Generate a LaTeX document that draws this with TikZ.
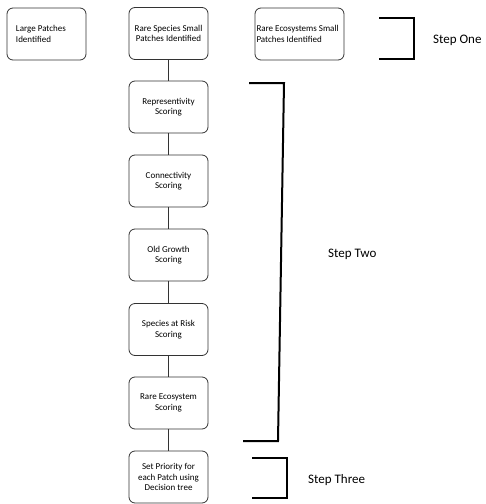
\documentclass[tikz,border=0pt]{standalone}
\usepackage{fontspec}
\setmainfont{Carlito}
\usepackage{tikz}

\tikzset{
  stepbox/.style={draw=black!80, line width=0.8pt, rounded corners=6pt,
    minimum width=79pt, minimum height=52pt, inner sep=2pt,
    align=center, font=\fontsize{9}{10.5}\selectfont},
  leftbox/.style={stepbox, align=flush left, text width=61pt, inner xsep=9pt},
  link/.style={draw=black!80, line width=0.8pt},
  bracket/.style={line width=2pt},
  steplabel/.style={font=\fontsize{13}{15}\selectfont}
}

\begin{document}
\begin{tikzpicture}[x=1pt, y=-1pt]
        \useasboundingbox (0,0) rectangle (486,504);
        % first row
        \node[leftbox] (large) at (46.5,34) {Large Patches\\Identified};
        \node[stepbox] (rsp) at (168.5,33.5) {Rare Species Small\\Patches Identified};
        \node[leftbox, text width=86pt, inner xsep=1.5pt] (reco) at (299.5,34) {Rare Ecosystems Small\\Patches Identified};

        % scoring column
        \node[stepbox] (rep) at (168.5,107) {Representivity\\Scoring};
        \node[stepbox] (con) at (168.5,181) {Connectivity\\Scoring};
        \node[stepbox] (old) at (168.5,255) {Old Growth\\Scoring};
        \node[stepbox] (sar) at (168.5,329.5) {Species at Risk\\Scoring};
        \node[stepbox] (rec) at (168.5,403) {Rare Ecosystem\\Scoring};
        \node[stepbox] (pri) at (168.5,477) {Set Priority for\\each Patch using\\Decision tree};

        \draw[link] (rsp) -- (rep);
        \draw[link] (rep) -- (con);
        \draw[link] (con) -- (old);
        \draw[link] (old) -- (sar);
        \draw[link] (sar) -- (rec);
        \draw[link] (rec) -- (pri);

        % brackets
        \draw[bracket] (379,18) -- (414,18) -- (414,59) -- (379,59);
        \node[steplabel, anchor=west, inner sep=0pt] (one) at (433,40) {Step One};
        \draw[bracket] (249,83) -- (284,83) -- (278,441) -- (243,441);
        \node[steplabel, anchor=west, inner sep=0pt] (two) at (328,254) {Step Two};
        \draw[bracket] (252,458) -- (287,458) -- (287,498) -- (252,498);
        \node[steplabel, anchor=west, inner sep=0pt] (three) at (308,480) {Step Three};
    \end{tikzpicture}
\end{document}
